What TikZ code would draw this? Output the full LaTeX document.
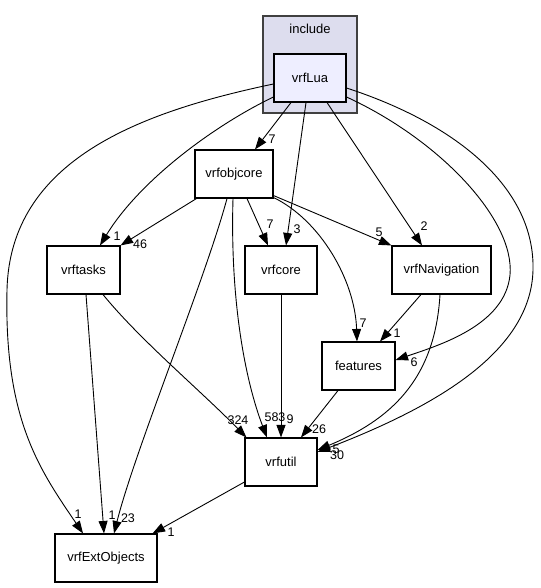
\documentclass[tikz,border=0pt]{standalone}
\usepackage{fontspec}
\setmainfont{Liberation Sans}
\usetikzlibrary{arrows.meta}
\definecolor{clusterfill}{HTML}{DDDDEE}
\definecolor{clusterline}{HTML}{404040}
\definecolor{luafill}{HTML}{EEEEFF}

\begin{document}
\begin{tikzpicture}[x=1pt, y=-1pt,
  dirbox/.style={draw, line width=1.1pt, fill=white, minimum height=48pt, inner sep=0pt, font=\fontsize{13}{15}\selectfont},
  edge/.style={line width=0.9pt, -{Stealth[length=12.5pt, width=9pt, inset=0pt]}},
  lab/.style={inner sep=0pt, font=\fontsize{12.5}{14}\selectfont}]
  \useasboundingbox (0,0) rectangle (540,588);

  % The include cluster with vrfLua inside
  \node[draw=clusterline, fill=clusterfill, line width=1.2pt, minimum width=94pt, minimum height=97pt] (include) at (310,64.5) {};
  \node[lab, font=\fontsize{13}{15}\selectfont] (includelab) at (310,29) {include};
  \node[dirbox, fill=luafill, minimum width=72pt] (lua) at (310,78) {vrfLua};

  % Directories
  \node[dirbox, minimum width=78pt] (objcore) at (234,174) {vrfobjcore};
  \node[dirbox, minimum width=73pt] (tasks) at (83.5,270) {vrftasks};
  \node[dirbox, minimum width=72pt] (core) at (281,270) {vrfcore};
  \node[dirbox, minimum width=99pt] (nav) at (441.5,270) {vrfNavigation};
  \node[dirbox, minimum width=73pt] (features) at (358.5,366) {features};
  \node[dirbox, minimum width=72pt] (util) at (281,462) {vrfutil};
  \node[dirbox, minimum width=102pt] (ext) at (106,558) {vrfExtObjects};

  % Dependencies of vrfLua
  \draw[edge] ([xshift=-19pt]lua.south) -- ([xshift=21pt]objcore.north);
  \draw[edge] ([yshift=-19pt]lua.west) .. controls (215,125) and (140,180) .. ([xshift=16.5pt]tasks.north);
  \draw[edge] ([xshift=-4pt]lua.south) -- ([xshift=5pt]core.north);
  \draw[edge] ([xshift=17pt]lua.south) -- ([xshift=-19.5pt]nav.north);
  \draw[edge] ([yshift=-6pt]lua.west) .. controls (140,112) and (10,160) .. (7,290)
    .. controls (4,420) and (40,470) .. ([xshift=-23pt]ext.north);
  \draw[edge] ([yshift=-19pt]lua.east) .. controls (440,140) and (515,220) .. (510,275)
    .. controls (505,325) and (440,345) .. ([yshift=6pt]features.east);
  \draw[edge] ([yshift=-10pt]lua.east) .. controls (460,125) and (535,190) .. (533,270)
    .. controls (531,350) and (440,405) .. ([yshift=10pt]util.east);

  % Dependencies of vrfobjcore
  \draw[edge] ([xshift=2pt]objcore.south west) -- (tasks.north east);
  \draw[edge] ([xshift=13pt]objcore.south) -- ([xshift=-13pt]core.north);
  \draw[edge] ([yshift=3pt]objcore.south east) -- (nav.north west);
  \draw[edge] ([xshift=-7pt]objcore.south) .. controls (205,280) and (135,450) .. ([xshift=8pt]ext.north);
  \draw[edge] ([xshift=-1pt]objcore.south) .. controls (230,300) and (245,380) .. ([xshift=-14pt]util.north);
  \draw[edge] ([yshift=1pt]objcore.south east) .. controls (320,220) and (355,280) .. ([xshift=-1.5pt]features.north);

  % The rest
  \draw[edge] ([xshift=2.5pt]tasks.south) -- ([xshift=-2pt]ext.north);
  \draw[edge] ([xshift=19.5pt]tasks.south) .. controls (140,340) and (200,390) .. ([xshift=2pt]util.north west);
  \draw[edge] (core) -- (util);
  \draw[edge] ([xshift=-20.5pt]nav.south) -- ([xshift=21.5pt]features.north);
  \draw[edge] ([xshift=-1.5pt]nav.south) .. controls (435,380) and (390,420) .. ([yshift=12pt]util.east);
  \draw[edge] ([xshift=-20.5pt]features.south) -- ([xshift=20pt]util.north);
  \draw[edge] ([yshift=-20pt]util.west) -- ([xshift=-5pt]ext.north east);

  % Edge counts
  \foreach \x/\y/\txt/\nm in {272/139/7/wluaobj, 117/236/1/wluatasks, 297/229/3/wluacore,
    424/226/2/wluanav, 78/514/1/wluaext, 414/362/6/wluafeat, 337/455/30/wluautil,
    140/244/46/wobjtasks, 270/224/7/wobjcore, 379/232/5/wobjnav, 128/518/23/wobjext,
    275/417/583/wobjutil, 363/323/7/wobjfeat, 112/515/1/wtasksext, 238/420/324/wtasksutil,
    290/419/9/wcoreutil, 397/333/1/wnavfeat, 336/449/5/wnavutil, 319/429/26/wfeatutil,
    171/532/1/wutilext} {
    \node[lab] (\nm) at (\x,\y) {\txt};
  }
\end{tikzpicture}
\end{document}
